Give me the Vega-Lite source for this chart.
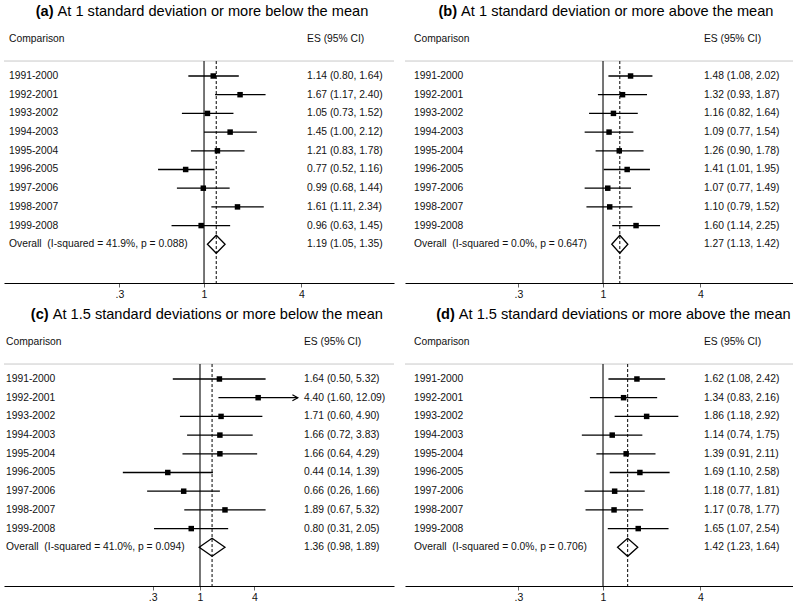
{
"$schema": "https://vega.github.io/schema/vega-lite/v6.json",
"padding": {"left": 3, "right": 0, "top": 0, "bottom": 0},
"datasets": {
"a": [
{"order":1,"kind":"study","label":"1991-2000","es":1.14,"lo":0.80,"hi":1.64,"ci":"1.14 (0.80, 1.64)"},
{"order":2,"kind":"study","label":"1992-2001","es":1.67,"lo":1.17,"hi":2.40,"ci":"1.67 (1.17, 2.40)"},
{"order":3,"kind":"study","label":"1993-2002","es":1.05,"lo":0.73,"hi":1.52,"ci":"1.05 (0.73, 1.52)"},
{"order":4,"kind":"study","label":"1994-2003","es":1.45,"lo":1.00,"hi":2.12,"ci":"1.45 (1.00, 2.12)"},
{"order":5,"kind":"study","label":"1995-2004","es":1.21,"lo":0.83,"hi":1.78,"ci":"1.21 (0.83, 1.78)"},
{"order":6,"kind":"study","label":"1996-2005","es":0.77,"lo":0.52,"hi":1.16,"ci":"0.77 (0.52, 1.16)"},
{"order":7,"kind":"study","label":"1997-2006","es":0.99,"lo":0.68,"hi":1.44,"ci":"0.99 (0.68, 1.44)"},
{"order":8,"kind":"study","label":"1998-2007","es":1.61,"lo":1.11,"hi":2.34,"ci":"1.61 (1.11, 2.34)"},
{"order":9,"kind":"study","label":"1999-2008","es":0.96,"lo":0.63,"hi":1.45,"ci":"0.96 (0.63, 1.45)"},
{"order":10,"kind":"overall","label":"Overall\u00a0 (I-squared = 41.9%, p = 0.088)","es":1.19,"lo":1.05,"hi":1.35,"ci":"1.19 (1.05, 1.35)"}
],
"b": [
{"order":1,"kind":"study","label":"1991-2000","es":1.48,"lo":1.08,"hi":2.02,"ci":"1.48 (1.08, 2.02)"},
{"order":2,"kind":"study","label":"1992-2001","es":1.32,"lo":0.93,"hi":1.87,"ci":"1.32 (0.93, 1.87)"},
{"order":3,"kind":"study","label":"1993-2002","es":1.16,"lo":0.82,"hi":1.64,"ci":"1.16 (0.82, 1.64)"},
{"order":4,"kind":"study","label":"1994-2003","es":1.09,"lo":0.77,"hi":1.54,"ci":"1.09 (0.77, 1.54)"},
{"order":5,"kind":"study","label":"1995-2004","es":1.26,"lo":0.90,"hi":1.78,"ci":"1.26 (0.90, 1.78)"},
{"order":6,"kind":"study","label":"1996-2005","es":1.41,"lo":1.01,"hi":1.95,"ci":"1.41 (1.01, 1.95)"},
{"order":7,"kind":"study","label":"1997-2006","es":1.07,"lo":0.77,"hi":1.49,"ci":"1.07 (0.77, 1.49)"},
{"order":8,"kind":"study","label":"1998-2007","es":1.10,"lo":0.79,"hi":1.52,"ci":"1.10 (0.79, 1.52)"},
{"order":9,"kind":"study","label":"1999-2008","es":1.60,"lo":1.14,"hi":2.25,"ci":"1.60 (1.14, 2.25)"},
{"order":10,"kind":"overall","label":"Overall\u00a0 (I-squared = 0.0%, p = 0.647)","es":1.27,"lo":1.13,"hi":1.42,"ci":"1.27 (1.13, 1.42)"}
],
"c": [
{"order":1,"kind":"study","label":"1991-2000","es":1.64,"lo":0.50,"hi":5.32,"ci":"1.64 (0.50, 5.32)"},
{"order":2,"kind":"study","label":"1992-2001","es":4.40,"lo":1.60,"hi":12.09,"ci":"4.40 (1.60, 12.09)"},
{"order":3,"kind":"study","label":"1993-2002","es":1.71,"lo":0.60,"hi":4.90,"ci":"1.71 (0.60, 4.90)"},
{"order":4,"kind":"study","label":"1994-2003","es":1.66,"lo":0.72,"hi":3.83,"ci":"1.66 (0.72, 3.83)"},
{"order":5,"kind":"study","label":"1995-2004","es":1.66,"lo":0.64,"hi":4.29,"ci":"1.66 (0.64, 4.29)"},
{"order":6,"kind":"study","label":"1996-2005","es":0.44,"lo":0.14,"hi":1.39,"ci":"0.44 (0.14, 1.39)"},
{"order":7,"kind":"study","label":"1997-2006","es":0.66,"lo":0.26,"hi":1.66,"ci":"0.66 (0.26, 1.66)"},
{"order":8,"kind":"study","label":"1998-2007","es":1.89,"lo":0.67,"hi":5.32,"ci":"1.89 (0.67, 5.32)"},
{"order":9,"kind":"study","label":"1999-2008","es":0.80,"lo":0.31,"hi":2.05,"ci":"0.80 (0.31, 2.05)"},
{"order":10,"kind":"overall","label":"Overall\u00a0 (I-squared = 41.0%, p = 0.094)","es":1.36,"lo":0.98,"hi":1.89,"ci":"1.36 (0.98, 1.89)"}
],
"d": [
{"order":1,"kind":"study","label":"1991-2000","es":1.62,"lo":1.08,"hi":2.42,"ci":"1.62 (1.08, 2.42)"},
{"order":2,"kind":"study","label":"1992-2001","es":1.34,"lo":0.83,"hi":2.16,"ci":"1.34 (0.83, 2.16)"},
{"order":3,"kind":"study","label":"1993-2002","es":1.86,"lo":1.18,"hi":2.92,"ci":"1.86 (1.18, 2.92)"},
{"order":4,"kind":"study","label":"1994-2003","es":1.14,"lo":0.74,"hi":1.75,"ci":"1.14 (0.74, 1.75)"},
{"order":5,"kind":"study","label":"1995-2004","es":1.39,"lo":0.91,"hi":2.11,"ci":"1.39 (0.91, 2.11)"},
{"order":6,"kind":"study","label":"1996-2005","es":1.69,"lo":1.10,"hi":2.58,"ci":"1.69 (1.10, 2.58)"},
{"order":7,"kind":"study","label":"1997-2006","es":1.18,"lo":0.77,"hi":1.81,"ci":"1.18 (0.77, 1.81)"},
{"order":8,"kind":"study","label":"1998-2007","es":1.17,"lo":0.78,"hi":1.77,"ci":"1.17 (0.78, 1.77)"},
{"order":9,"kind":"study","label":"1999-2008","es":1.65,"lo":1.07,"hi":2.54,"ci":"1.65 (1.07, 2.54)"},
{"order":10,"kind":"overall","label":"Overall\u00a0 (I-squared = 0.0%, p = 0.706)","es":1.42,"lo":1.23,"hi":1.64,"ci":"1.42 (1.23, 1.64)"}
]
},
"columns": 2,
"spacing": {"row": 3, "column": 9},
"concat": [
{
"width": 390, "height": 283,
"data": {"name": "a"},
"layer": [
{"transform":[{"filter":"datum.kind == 'overall'"}],"mark":{"type":"rule","color":"#c8c8c8","strokeWidth":1},
 "encoding":{"y":{"datum":0.2,"type":"quantitative","scale":{"domain":[-3.064,12.07],"reverse":true,"nice":false,"zero":false}}}},
{"transform":[{"filter":"datum.kind == 'overall'"}],"mark":{"type":"rule","color":"#1a1a1a","strokeWidth":1.2},
 "encoding":{"x":{"datum":1,"type":"quantitative","scale":{"type":"log","domain":[0.0581,14.92],"nice":false,"zero":false},"axis":{"values":[0.3,1,4],"format":"~g","labelExpr":"datum.value < 1 ? '.3' : datum.label","title":null}},
  "y":{"datum":0.2,"type":"quantitative"},"y2":{"datum":12.07}}},
{"transform":[{"filter":"datum.kind == 'study'"}],"mark":{"type":"rule","color":"#000","strokeWidth":1.3},
 "encoding":{"x":{"field":"lo","type":"quantitative","title":null,"axis":{"values":[0.3,1,4],"format":"~g","labelExpr":"datum.value < 1 ? '.3' : datum.label","title":null}},
  "x2":{"field":"hi"},"y":{"field":"order","type":"quantitative"}}},
{"transform":[{"filter":"datum.kind == 'study'"}],"mark":{"type":"point","shape":"square","filled":true,"color":"#000","size":30,"opacity":1},
 "encoding":{"x":{"field":"es","type":"quantitative","title":null,"axis":{"values":[0.3,1,4],"format":"~g","labelExpr":"datum.value < 1 ? '.3' : datum.label","title":null}},"y":{"field":"order","type":"quantitative"}}},
{"transform":[{"filter":"datum.kind == 'overall'"}],"mark":{"type":"point","shape":"M-0.981,0L0,-1L0.981,0L0,1Z","filled":false,"color":"#000","strokeWidth":1.3,"size":324,"opacity":1},
 "encoding":{"x":{"field":"es","type":"quantitative","title":null,"axis":{"values":[0.3,1,4],"format":"~g","labelExpr":"datum.value < 1 ? '.3' : datum.label","title":null}},"y":{"field":"order","type":"quantitative"}}},
{"transform":[{"filter":"datum.kind == 'overall'"}],"mark":{"type":"rule","color":"#000","strokeWidth":1,"strokeDash":[3,2]},
 "encoding":{"x":{"field":"es","type":"quantitative","title":null,"axis":{"values":[0.3,1,4],"format":"~g","labelExpr":"datum.value < 1 ? '.3' : datum.label","title":null}},"y":{"datum":0.2,"type":"quantitative"},"y2":{"datum":12.07}}},
{"mark":{"type":"text","align":"left","baseline":"middle","fontSize":10.3,"color":"#111"},
 "encoding":{"x":{"datum":0.0624,"type":"quantitative","axis":{"values":[0.3,1,4],"format":"~g","labelExpr":"datum.value < 1 ? '.3' : datum.label","title":null}},"y":{"field":"order","type":"quantitative"},"text":{"field":"label"}}},
{"mark":{"type":"text","align":"left","baseline":"middle","fontSize":10.3,"color":"#111"},
 "encoding":{"x":{"datum":4.33,"type":"quantitative","axis":{"values":[0.3,1,4],"format":"~g","labelExpr":"datum.value < 1 ? '.3' : datum.label","title":null}},"y":{"field":"order","type":"quantitative"},"text":{"field":"ci"}}},
{"transform":[{"filter":"datum.kind == 'overall'"}],"mark":{"type":"text","align":"left","baseline":"middle","fontSize":10.3,"color":"#111"},
 "encoding":{"x":{"datum":0.0624,"type":"quantitative","axis":{"values":[0.3,1,4],"format":"~g","labelExpr":"datum.value < 1 ? '.3' : datum.label","title":null}},"y":{"datum":-1.0,"type":"quantitative"},"text":{"value":"Comparison"}}},
{"transform":[{"filter":"datum.kind == 'overall'"}],"mark":{"type":"text","align":"left","baseline":"middle","fontSize":10.3,"color":"#111"},
 "encoding":{"x":{"datum":4.33,"type":"quantitative","axis":{"values":[0.3,1,4],"format":"~g","labelExpr":"datum.value < 1 ? '.3' : datum.label","title":null}},"y":{"datum":-1.0,"type":"quantitative"},"text":{"value":"ES (95% CI)"}}},
{"transform":[{"filter":"datum.kind == 'overall'"}],"mark":{"type":"text","align":"right","baseline":"middle","fontSize":14.6,"fontWeight":"bold","color":"#000"},
 "encoding":{"x":{"datum":0.1176,"type":"quantitative","axis":{"values":[0.3,1,4],"format":"~g","labelExpr":"datum.value < 1 ? '.3' : datum.label","title":null}},"y":{"datum":-2.43,"type":"quantitative"},"text":{"value":"(a)"}}},
{"transform":[{"filter":"datum.kind == 'overall'"}],"mark":{"type":"text","align":"left","baseline":"middle","fontSize":14.6,"color":"#000","dx":4},
 "encoding":{"x":{"datum":0.1176,"type":"quantitative","axis":{"values":[0.3,1,4],"format":"~g","labelExpr":"datum.value < 1 ? '.3' : datum.label","title":null}},"y":{"datum":-2.43,"type":"quantitative"},"text":{"value":"At 1 standard deviation or more below the mean"}}}
]
},
{
"width": 390, "height": 283,
"data": {"name": "b"},
"layer": [
{"transform":[{"filter":"datum.kind == 'overall'"}],"mark":{"type":"rule","color":"#c8c8c8","strokeWidth":1},
 "encoding":{"y":{"datum":0.2,"type":"quantitative","scale":{"domain":[-3.064,12.07],"reverse":true,"nice":false,"zero":false}}}},
{"transform":[{"filter":"datum.kind == 'overall'"}],"mark":{"type":"rule","color":"#1a1a1a","strokeWidth":1.2},
 "encoding":{"x":{"datum":1,"type":"quantitative","scale":{"type":"log","domain":[0.0598,15.35],"nice":false,"zero":false},"axis":{"values":[0.3,1,4],"format":"~g","labelExpr":"datum.value < 1 ? '.3' : datum.label","title":null}},
  "y":{"datum":0.2,"type":"quantitative"},"y2":{"datum":12.07}}},
{"transform":[{"filter":"datum.kind == 'study'"}],"mark":{"type":"rule","color":"#000","strokeWidth":1.3},
 "encoding":{"x":{"field":"lo","type":"quantitative","title":null,"axis":{"values":[0.3,1,4],"format":"~g","labelExpr":"datum.value < 1 ? '.3' : datum.label","title":null}},
  "x2":{"field":"hi"},"y":{"field":"order","type":"quantitative"}}},
{"transform":[{"filter":"datum.kind == 'study'"}],"mark":{"type":"point","shape":"square","filled":true,"color":"#000","size":30,"opacity":1},
 "encoding":{"x":{"field":"es","type":"quantitative","title":null,"axis":{"values":[0.3,1,4],"format":"~g","labelExpr":"datum.value < 1 ? '.3' : datum.label","title":null}},"y":{"field":"order","type":"quantitative"}}},
{"transform":[{"filter":"datum.kind == 'overall'"}],"mark":{"type":"point","shape":"M-0.892,0L0,-1L0.892,0L0,1Z","filled":false,"color":"#000","strokeWidth":1.3,"size":324,"opacity":1},
 "encoding":{"x":{"field":"es","type":"quantitative","title":null,"axis":{"values":[0.3,1,4],"format":"~g","labelExpr":"datum.value < 1 ? '.3' : datum.label","title":null}},"y":{"field":"order","type":"quantitative"}}},
{"transform":[{"filter":"datum.kind == 'overall'"}],"mark":{"type":"rule","color":"#000","strokeWidth":1,"strokeDash":[3,2]},
 "encoding":{"x":{"field":"es","type":"quantitative","title":null,"axis":{"values":[0.3,1,4],"format":"~g","labelExpr":"datum.value < 1 ? '.3' : datum.label","title":null}},"y":{"datum":0.2,"type":"quantitative"},"y2":{"datum":12.07}}},
{"mark":{"type":"text","align":"left","baseline":"middle","fontSize":10.3,"color":"#111"},
 "encoding":{"x":{"datum":0.068,"type":"quantitative","axis":{"values":[0.3,1,4],"format":"~g","labelExpr":"datum.value < 1 ? '.3' : datum.label","title":null}},"y":{"field":"order","type":"quantitative"},"text":{"field":"label"}}},
{"mark":{"type":"text","align":"left","baseline":"middle","fontSize":10.3,"color":"#111"},
 "encoding":{"x":{"datum":4.2,"type":"quantitative","axis":{"values":[0.3,1,4],"format":"~g","labelExpr":"datum.value < 1 ? '.3' : datum.label","title":null}},"y":{"field":"order","type":"quantitative"},"text":{"field":"ci"}}},
{"transform":[{"filter":"datum.kind == 'overall'"}],"mark":{"type":"text","align":"left","baseline":"middle","fontSize":10.3,"color":"#111"},
 "encoding":{"x":{"datum":0.068,"type":"quantitative","axis":{"values":[0.3,1,4],"format":"~g","labelExpr":"datum.value < 1 ? '.3' : datum.label","title":null}},"y":{"datum":-1.0,"type":"quantitative"},"text":{"value":"Comparison"}}},
{"transform":[{"filter":"datum.kind == 'overall'"}],"mark":{"type":"text","align":"left","baseline":"middle","fontSize":10.3,"color":"#111"},
 "encoding":{"x":{"datum":4.2,"type":"quantitative","axis":{"values":[0.3,1,4],"format":"~g","labelExpr":"datum.value < 1 ? '.3' : datum.label","title":null}},"y":{"datum":-1.0,"type":"quantitative"},"text":{"value":"ES (95% CI)"}}},
{"transform":[{"filter":"datum.kind == 'overall'"}],"mark":{"type":"text","align":"right","baseline":"middle","fontSize":14.6,"fontWeight":"bold","color":"#000"},
 "encoding":{"x":{"datum":0.1255,"type":"quantitative","axis":{"values":[0.3,1,4],"format":"~g","labelExpr":"datum.value < 1 ? '.3' : datum.label","title":null}},"y":{"datum":-2.43,"type":"quantitative"},"text":{"value":"(b)"}}},
{"transform":[{"filter":"datum.kind == 'overall'"}],"mark":{"type":"text","align":"left","baseline":"middle","fontSize":14.6,"color":"#000","dx":4},
 "encoding":{"x":{"datum":0.1255,"type":"quantitative","axis":{"values":[0.3,1,4],"format":"~g","labelExpr":"datum.value < 1 ? '.3' : datum.label","title":null}},"y":{"datum":-2.43,"type":"quantitative"},"text":{"value":"At 1 standard deviation or more above the mean"}}}
]
},
{
"width": 390, "height": 283,
"data": {"name": "c"},
"layer": [
{"transform":[{"filter":"datum.kind == 'overall'"}],"mark":{"type":"rule","color":"#c8c8c8","strokeWidth":1},
 "encoding":{"y":{"datum":0.2,"type":"quantitative","scale":{"domain":[-3.064,12.07],"reverse":true,"nice":false,"zero":false}}}},
{"transform":[{"filter":"datum.kind == 'overall'"}],"mark":{"type":"rule","color":"#1a1a1a","strokeWidth":1.2},
 "encoding":{"x":{"datum":1,"type":"quantitative","scale":{"type":"log","domain":[0.00678,140.2],"nice":false,"zero":false},"axis":{"values":[0.3,1,4],"format":"~g","labelExpr":"datum.value < 1 ? '.3' : datum.label","title":null}},
  "y":{"datum":0.2,"type":"quantitative"},"y2":{"datum":12.07}}},
{"transform":[{"filter":"datum.kind == 'study'"}],"mark":{"type":"rule","color":"#000","strokeWidth":1.3},
 "encoding":{"x":{"field":"lo","type":"quantitative","title":null,"axis":{"values":[0.3,1,4],"format":"~g","labelExpr":"datum.value < 1 ? '.3' : datum.label","title":null}},
  "x2":{"field":"hi"},"y":{"field":"order","type":"quantitative"}}},
{"transform":[{"filter":"datum.kind == 'study'"}],"mark":{"type":"point","shape":"square","filled":true,"color":"#000","size":30,"opacity":1},
 "encoding":{"x":{"field":"es","type":"quantitative","title":null,"axis":{"values":[0.3,1,4],"format":"~g","labelExpr":"datum.value < 1 ? '.3' : datum.label","title":null}},"y":{"field":"order","type":"quantitative"}}},
{"transform":[{"filter":"datum.kind == 'study' && datum.hi > 10"}],"mark":{"type":"point","shape":"M-1.8,-1L0,0L-1.8,1","filled":false,"color":"#000","strokeWidth":1.2,"size":36,"opacity":1},
 "encoding":{"x":{"field":"hi","type":"quantitative","title":null,"axis":{"values":[0.3,1,4],"format":"~g","labelExpr":"datum.value < 1 ? '.3' : datum.label","title":null}},"y":{"field":"order","type":"quantitative"}}},
{"transform":[{"filter":"datum.kind == 'overall'"}],"mark":{"type":"point","shape":"M-1.432,0L0,-1L1.432,0L0,1Z","filled":false,"color":"#000","strokeWidth":1.3,"size":324,"opacity":1},
 "encoding":{"x":{"field":"es","type":"quantitative","title":null,"axis":{"values":[0.3,1,4],"format":"~g","labelExpr":"datum.value < 1 ? '.3' : datum.label","title":null}},"y":{"field":"order","type":"quantitative"}}},
{"transform":[{"filter":"datum.kind == 'overall'"}],"mark":{"type":"rule","color":"#000","strokeWidth":1,"strokeDash":[3,2]},
 "encoding":{"x":{"field":"es","type":"quantitative","title":null,"axis":{"values":[0.3,1,4],"format":"~g","labelExpr":"datum.value < 1 ? '.3' : datum.label","title":null}},"y":{"datum":0.2,"type":"quantitative"},"y2":{"datum":12.07}}},
{"mark":{"type":"text","align":"left","baseline":"middle","fontSize":10.3,"color":"#111"},
 "encoding":{"x":{"datum":0.00714,"type":"quantitative","axis":{"values":[0.3,1,4],"format":"~g","labelExpr":"datum.value < 1 ? '.3' : datum.label","title":null}},"y":{"field":"order","type":"quantitative"},"text":{"field":"label"}}},
{"mark":{"type":"text","align":"left","baseline":"middle","fontSize":10.3,"color":"#111"},
 "encoding":{"x":{"datum":14.15,"type":"quantitative","axis":{"values":[0.3,1,4],"format":"~g","labelExpr":"datum.value < 1 ? '.3' : datum.label","title":null}},"y":{"field":"order","type":"quantitative"},"text":{"field":"ci"}}},
{"transform":[{"filter":"datum.kind == 'overall'"}],"mark":{"type":"text","align":"left","baseline":"middle","fontSize":10.3,"color":"#111"},
 "encoding":{"x":{"datum":0.00714,"type":"quantitative","axis":{"values":[0.3,1,4],"format":"~g","labelExpr":"datum.value < 1 ? '.3' : datum.label","title":null}},"y":{"datum":-1.0,"type":"quantitative"},"text":{"value":"Comparison"}}},
{"transform":[{"filter":"datum.kind == 'overall'"}],"mark":{"type":"text","align":"left","baseline":"middle","fontSize":10.3,"color":"#111"},
 "encoding":{"x":{"datum":14.15,"type":"quantitative","axis":{"values":[0.3,1,4],"format":"~g","labelExpr":"datum.value < 1 ? '.3' : datum.label","title":null}},"y":{"datum":-1.0,"type":"quantitative"},"text":{"value":"ES (95% CI)"}}},
{"transform":[{"filter":"datum.kind == 'overall'"}],"mark":{"type":"text","align":"right","baseline":"middle","fontSize":14.6,"fontWeight":"bold","color":"#000"},
 "encoding":{"x":{"datum":0.02118,"type":"quantitative","axis":{"values":[0.3,1,4],"format":"~g","labelExpr":"datum.value < 1 ? '.3' : datum.label","title":null}},"y":{"datum":-2.43,"type":"quantitative"},"text":{"value":"(c)"}}},
{"transform":[{"filter":"datum.kind == 'overall'"}],"mark":{"type":"text","align":"left","baseline":"middle","fontSize":14.6,"color":"#000","dx":4},
 "encoding":{"x":{"datum":0.02118,"type":"quantitative","axis":{"values":[0.3,1,4],"format":"~g","labelExpr":"datum.value < 1 ? '.3' : datum.label","title":null}},"y":{"datum":-2.43,"type":"quantitative"},"text":{"value":"At 1.5 standard deviations or more below the mean"}}}
]
},
{
"width": 390, "height": 283,
"data": {"name": "d"},
"layer": [
{"transform":[{"filter":"datum.kind == 'overall'"}],"mark":{"type":"rule","color":"#c8c8c8","strokeWidth":1},
 "encoding":{"y":{"datum":0.2,"type":"quantitative","scale":{"domain":[-3.064,12.07],"reverse":true,"nice":false,"zero":false}}}},
{"transform":[{"filter":"datum.kind == 'overall'"}],"mark":{"type":"rule","color":"#1a1a1a","strokeWidth":1.2},
 "encoding":{"x":{"datum":1,"type":"quantitative","scale":{"type":"log","domain":[0.0598,15.35],"nice":false,"zero":false},"axis":{"values":[0.3,1,4],"format":"~g","labelExpr":"datum.value < 1 ? '.3' : datum.label","title":null}},
  "y":{"datum":0.2,"type":"quantitative"},"y2":{"datum":12.07}}},
{"transform":[{"filter":"datum.kind == 'study'"}],"mark":{"type":"rule","color":"#000","strokeWidth":1.3},
 "encoding":{"x":{"field":"lo","type":"quantitative","title":null,"axis":{"values":[0.3,1,4],"format":"~g","labelExpr":"datum.value < 1 ? '.3' : datum.label","title":null}},
  "x2":{"field":"hi"},"y":{"field":"order","type":"quantitative"}}},
{"transform":[{"filter":"datum.kind == 'study'"}],"mark":{"type":"point","shape":"square","filled":true,"color":"#000","size":30,"opacity":1},
 "encoding":{"x":{"field":"es","type":"quantitative","title":null,"axis":{"values":[0.3,1,4],"format":"~g","labelExpr":"datum.value < 1 ? '.3' : datum.label","title":null}},"y":{"field":"order","type":"quantitative"}}},
{"transform":[{"filter":"datum.kind == 'overall'"}],"mark":{"type":"point","shape":"M-1.123,0L0,-1L1.123,0L0,1Z","filled":false,"color":"#000","strokeWidth":1.3,"size":324,"opacity":1},
 "encoding":{"x":{"field":"es","type":"quantitative","title":null,"axis":{"values":[0.3,1,4],"format":"~g","labelExpr":"datum.value < 1 ? '.3' : datum.label","title":null}},"y":{"field":"order","type":"quantitative"}}},
{"transform":[{"filter":"datum.kind == 'overall'"}],"mark":{"type":"rule","color":"#000","strokeWidth":1,"strokeDash":[3,2]},
 "encoding":{"x":{"field":"es","type":"quantitative","title":null,"axis":{"values":[0.3,1,4],"format":"~g","labelExpr":"datum.value < 1 ? '.3' : datum.label","title":null}},"y":{"datum":0.2,"type":"quantitative"},"y2":{"datum":12.07}}},
{"mark":{"type":"text","align":"left","baseline":"middle","fontSize":10.3,"color":"#111"},
 "encoding":{"x":{"datum":0.068,"type":"quantitative","axis":{"values":[0.3,1,4],"format":"~g","labelExpr":"datum.value < 1 ? '.3' : datum.label","title":null}},"y":{"field":"order","type":"quantitative"},"text":{"field":"label"}}},
{"mark":{"type":"text","align":"left","baseline":"middle","fontSize":10.3,"color":"#111"},
 "encoding":{"x":{"datum":4.2,"type":"quantitative","axis":{"values":[0.3,1,4],"format":"~g","labelExpr":"datum.value < 1 ? '.3' : datum.label","title":null}},"y":{"field":"order","type":"quantitative"},"text":{"field":"ci"}}},
{"transform":[{"filter":"datum.kind == 'overall'"}],"mark":{"type":"text","align":"left","baseline":"middle","fontSize":10.3,"color":"#111"},
 "encoding":{"x":{"datum":0.068,"type":"quantitative","axis":{"values":[0.3,1,4],"format":"~g","labelExpr":"datum.value < 1 ? '.3' : datum.label","title":null}},"y":{"datum":-1.0,"type":"quantitative"},"text":{"value":"Comparison"}}},
{"transform":[{"filter":"datum.kind == 'overall'"}],"mark":{"type":"text","align":"left","baseline":"middle","fontSize":10.3,"color":"#111"},
 "encoding":{"x":{"datum":4.2,"type":"quantitative","axis":{"values":[0.3,1,4],"format":"~g","labelExpr":"datum.value < 1 ? '.3' : datum.label","title":null}},"y":{"datum":-1.0,"type":"quantitative"},"text":{"value":"ES (95% CI)"}}},
{"transform":[{"filter":"datum.kind == 'overall'"}],"mark":{"type":"text","align":"right","baseline":"middle","fontSize":14.6,"fontWeight":"bold","color":"#000"},
 "encoding":{"x":{"datum":0.1215,"type":"quantitative","axis":{"values":[0.3,1,4],"format":"~g","labelExpr":"datum.value < 1 ? '.3' : datum.label","title":null}},"y":{"datum":-2.43,"type":"quantitative"},"text":{"value":"(d)"}}},
{"transform":[{"filter":"datum.kind == 'overall'"}],"mark":{"type":"text","align":"left","baseline":"middle","fontSize":14.6,"color":"#000","dx":4},
 "encoding":{"x":{"datum":0.1215,"type":"quantitative","axis":{"values":[0.3,1,4],"format":"~g","labelExpr":"datum.value < 1 ? '.3' : datum.label","title":null}},"y":{"datum":-2.43,"type":"quantitative"},"text":{"value":"At 1.5 standard deviations or more above the mean"}}}
]
}
],
"config": {
"view": {"stroke": null},
"font": "Liberation Sans",
"text": {"font": "Liberation Sans"},
"axisY": {"disable": true},
"axisX": {"domainColor": "#000", "domainWidth": 1.2, "tickColor": "#666", "tickSize": 4, "tickWidth": 1,
 "labelFont": "Liberation Sans", "labelFontSize": 10.5, "labelColor": "#111", "labelPadding": 2, "grid": false}
}
}
